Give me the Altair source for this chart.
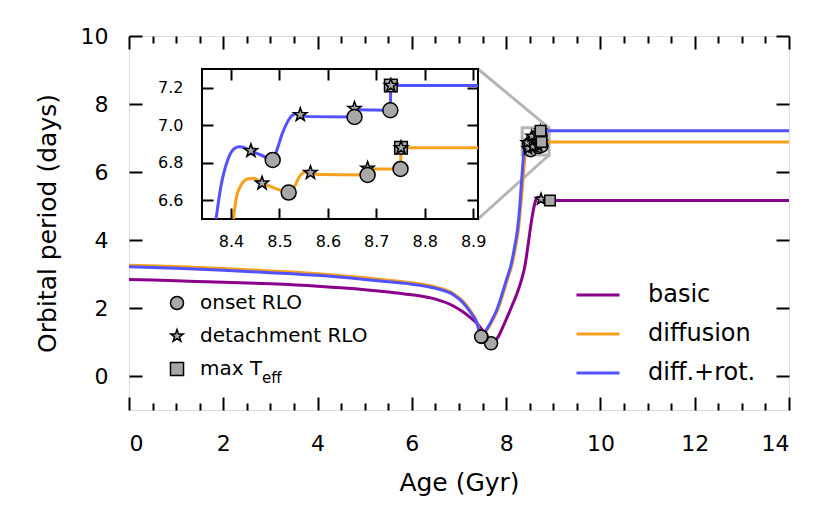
import altair as alt
import pandas as pd

# ---------------- data ----------------
SERIES = ["basic", "diffusion", "diff.+rot."]
COLORS = ["#8b008b", "#f7a01c", "#5252ff"]

basic_age = [0.0, 1.0, 2.0, 3.0, 4.0, 5.0, 5.5, 6.0, 6.5, 6.88, 7.09, 7.23, 7.38, 7.52, 7.68,
             7.75, 7.83, 7.95, 8.05, 8.15, 8.25, 8.33, 8.40, 8.46, 8.52, 8.58, 8.63, 8.67, 8.71, 8.76, 8.90, 14.0]
basic_period = [2.84, 2.80, 2.76, 2.71, 2.64, 2.54, 2.47, 2.39, 2.26, 2.06, 1.88, 1.73, 1.55, 1.30, 0.96,
                1.02, 1.15, 1.50, 1.82, 2.15, 2.50, 2.85, 3.25, 3.80, 4.40, 4.90, 5.18, 5.26, 5.22, 5.17, 5.16, 5.16]

diff_age = [0.0, 1.0, 2.0, 3.0, 4.0, 5.0, 5.5, 6.0, 6.5, 6.88, 7.09, 7.23, 7.38, 7.48,
            7.57, 7.64, 7.72, 7.82, 7.92, 8.03, 8.12, 8.20, 8.26, 8.31, 8.35, 8.38,
            8.405, 8.410, 8.421, 8.434, 8.447, 8.464, 8.49, 8.519,
            8.531, 8.541, 8.552, 8.564, 8.58, 8.682, 8.686, 8.75, 8.751, 14.0]
diff_period = [3.26, 3.22, 3.16, 3.09, 3.01, 2.89, 2.82, 2.74, 2.62, 2.43, 2.19, 1.94, 1.59, 1.15,
               1.30, 1.45, 1.65, 1.94, 2.35, 2.85, 3.25, 3.80, 4.30, 5.00, 5.60, 6.15,
               6.50, 6.60, 6.682, 6.713, 6.717, 6.691, 6.665, 6.641,
               6.673, 6.726, 6.750, 6.747, 6.737, 6.735, 6.767, 6.767, 6.880, 6.880]

rot_age = [0.0, 1.0, 2.0, 3.0, 4.0, 5.0, 5.5, 6.0, 6.5, 6.88, 7.09, 7.23, 7.38, 7.47,
           7.55, 7.62, 7.70, 7.80, 7.90, 8.01, 8.10, 8.18, 8.24, 8.29, 8.32, 8.35,
           8.369, 8.379, 8.393, 8.407, 8.417, 8.428, 8.441, 8.463, 8.486, 8.495, 8.505, 8.515,
           8.525, 8.535, 8.543, 8.56, 8.655, 8.66, 8.665, 8.729, 8.73, 14.0]
rot_period = [3.21, 3.17, 3.11, 3.04, 2.96, 2.84, 2.77, 2.70, 2.58, 2.39, 2.15, 1.90, 1.56, 1.16,
              1.30, 1.45, 1.65, 1.94, 2.35, 2.85, 3.25, 3.80, 4.30, 5.00, 5.60, 6.15,
              6.50, 6.673, 6.814, 6.876, 6.885, 6.880, 6.864, 6.840, 6.815, 6.870, 6.950, 7.010,
              7.050, 7.062, 7.056, 7.046, 7.044, 7.075, 7.083, 7.080, 7.212, 7.212]

KINDS = ["onset RLO", "detachment RLO", "max T"]
SUBSCRIPT = ["eff"]

mk_series = (["basic"] * 3 + ["diffusion"] * 9 + ["diff.+rot."] * 9)
mk_kind = (["onset RLO", "detachment RLO", "max T"]
           + ["onset RLO", "detachment RLO", "onset RLO", "detachment RLO", "onset RLO",
              "detachment RLO", "onset RLO", "max T", "detachment RLO"]
           + ["onset RLO", "detachment RLO", "onset RLO", "detachment RLO", "onset RLO",
              "detachment RLO", "onset RLO", "max T", "detachment RLO"])
mk_age = ([7.68, 8.74, 8.93]
          + [7.48, 8.464, 8.519, 8.564, 8.682, 8.682, 8.750, 8.751, 8.751]
          + [7.47, 8.441, 8.486, 8.543, 8.655, 8.655, 8.729, 8.73, 8.73])
mk_period = ([0.96, 5.20, 5.16]
             + [1.15, 6.691, 6.641, 6.747, 6.735, 6.770, 6.767, 6.880, 6.880]
             + [1.16, 6.864, 6.815, 7.056, 7.044, 7.089, 7.080, 7.212, 7.212])

X_TICKS = [0, 2, 4, 6, 8, 10, 12, 14]
X_MINOR = [v / 2 for v in range(0, 29) if v % 4 != 0]
Y_TICKS = [0, 2, 4, 6, 8, 10]
X_DOM = [0, 14]
Y_DOM = [-1, 10]
IN_X_TICKS = [8.4, 8.5, 8.6, 8.7, 8.8, 8.9]
IN_Y_TICKS = [6.6, 6.8, 7.0, 7.2]
IN_X_DOM = [8.34, 8.91]
IN_Y_DOM = [6.5, 7.3]

# ---------------- layout / style ----------------
W, H = 660, 374
PAD = {"left": 121, "top": 28, "right": 34, "bottom": 96}
IN_LEFT, IN_RIGHT, IN_TOP, IN_BOTTOM = 73, 349, 33, 183
FONT = "DejaVu Sans"
GRAY = "#a8a8a8"
BOXGRAY = "#b5b5b5"
STAR = ("M0,-1L0.235,-0.324L0.951,-0.309L0.380,0.124L0.588,0.809L0,0.4"
        "L-0.588,0.809L-0.380,0.124L-0.951,-0.309L-0.235,-0.324Z")

lines_df = pd.concat([
    pd.DataFrame({"series": s, "age": a, "period": p})
    for s, a, p in zip(SERIES, [basic_age, diff_age, rot_age], [basic_period, diff_period, rot_period])
], ignore_index=True)

mk_df = pd.DataFrame({"series": mk_series, "kind": mk_kind, "age": mk_age, "period": mk_period})
mk_df["k"] = mk_df["kind"].map({k: i for i, k in enumerate(KINDS)})
mk_main = mk_df.sort_values("k", kind="stable")                    # circles, stars, squares
mk_inset = mk_df.sort_values("k", ascending=False, kind="stable")  # squares, stars, circles

box_df = pd.DataFrame({"x": [IN_X_DOM[0]], "x2": [IN_X_DOM[1]], "y": [IN_Y_DOM[0]], "y2": [IN_Y_DOM[1]]})

# inset corners expressed in main data units (for the connector lines)
cx = X_DOM[0] + IN_RIGHT / W * (X_DOM[1] - X_DOM[0])
cy_top = Y_DOM[1] - IN_TOP / H * (Y_DOM[1] - Y_DOM[0])
cy_bot = Y_DOM[1] - IN_BOTTOM / H * (Y_DOM[1] - Y_DOM[0])
conn_df = pd.DataFrame({"x": [IN_X_DOM[1], IN_X_DOM[1]], "y": [IN_Y_DOM[1], IN_Y_DOM[0]],
                        "x2": [cx, cx], "y2": [cy_top, cy_bot]})

MX = alt.Scale(domain=X_DOM, nice=False, zero=False)
MY = alt.Scale(domain=Y_DOM, nice=False, zero=False)
IX = alt.Scale(domain=IN_X_DOM, range=[IN_LEFT, IN_RIGHT], clamp=True, nice=False, zero=False)
IY = alt.Scale(domain=IN_Y_DOM, range=[IN_BOTTOM, IN_TOP], nice=False, zero=False)
CS = alt.Scale(domain=SERIES, range=COLORS)
SHAPES = alt.Scale(domain=KINDS, range=["circle", STAR, "square"])
OUTLINE = alt.Scale(domain=KINDS, range=["black", "black", "black"])


def ax(orient, values, size, offset, **kw):
    base = dict(orient=orient, values=values, tickSize=size, offset=offset, domain=False, grid=False,
                labels=False, ticks=True, tickWidth=2, tickColor="black", zindex=1, title=None)
    base.update(kw)
    return alt.Axis(**base)


bottom_major = ax("bottom", X_TICKS, 13, -13, labels=True, format="d", labelFontSize=22, labelFont=FONT,
                  labelColor="black", labelPadding=23, title="Age (Gyr)", titleFontSize=25, titleFont=FONT,
                  titleFontWeight="normal", titleColor="black", titlePadding=16)
left_major = ax("left", Y_TICKS, 13, -13, labels=True, format="d", labelFontSize=22, labelFont=FONT,
                labelColor="black", labelPadding=21, title="Orbital period (days)", titleFontSize=25,
                titleFont=FONT, titleFontWeight="normal", titleColor="black", titlePadding=20)
bottom_minor = ax("bottom", X_MINOR, 7, -7)
top_major = ax("top", X_TICKS, 13, -13)
top_minor = ax("top", X_MINOR, 7, -7)
right_major = ax("right", Y_TICKS, 13, -13)

ITS = 11
in_bottom = ax("bottom", IN_X_TICKS, ITS, -(H - IN_BOTTOM + ITS), labels=True, format=".1f", labelFontSize=16,
               labelFont=FONT, labelColor="black", labelPadding=14)
in_left = ax("left", IN_Y_TICKS, ITS, -(IN_LEFT + ITS), labels=True, format=".1f", labelFontSize=16,
             labelFont=FONT, labelColor="black", labelPadding=19)
in_top = ax("top", IN_X_TICKS, ITS, -(IN_TOP + ITS))
in_right = ax("right", IN_Y_TICKS, ITS, -(W - IN_RIGHT + ITS))

color_legend = alt.Legend(orient="none", legendX=446, legendY=247, title=None, symbolType="stroke",
                          symbolSize=1849, symbolStrokeWidth=3, clipHeight=24, rowPadding=15, padding=0,
                          labelFontSize=24, labelFont=FONT, labelColor="black", labelOffset=27,
                          labelLimit=400)
shape_legend = alt.Legend(orient="none", legendX=38, legendY=257, title=None, symbolSize=170,
                          symbolFillColor=GRAY, symbolStrokeWidth=1.5,
                          symbolOpacity=1, clipHeight=20, rowPadding=13, padding=0, labelFontSize=20,
                          labelFont=FONT, labelColor="black", labelOffset=13, labelLimit=400)

layers = []

# zoom box in the main panel
layers.append(alt.Chart(box_df).mark_rect(fill=None, stroke=BOXGRAY, strokeWidth=3).encode(
    x=alt.X("x:Q", scale=MX, axis=bottom_minor), x2="x2:Q",
    y=alt.Y("y:Q", scale=MY, axis=right_major), y2="y2:Q"))

# connector lines
layers.append(alt.Chart(conn_df).mark_rule(stroke=BOXGRAY, strokeWidth=3).encode(
    x=alt.X("x:Q", scale=MX, axis=top_major), x2="x2:Q",
    y=alt.Y("y:Q", scale=MY, axis=None), y2="y2:Q"))

# main curves
main_axes = [(bottom_major, left_major), (top_minor, None), (None, None)]
for s, (xa, ya) in zip(SERIES, main_axes):
    layers.append(alt.Chart(lines_df).transform_filter(alt.datum.series == s).mark_line(
        strokeWidth=3, interpolate="monotone").encode(
        x=alt.X("age:Q", scale=MX, axis=xa),
        y=alt.Y("period:Q", scale=MY, axis=ya),
        color=alt.Color("series:N", scale=CS, legend=color_legend if s == SERIES[0] else None)))

# main markers
layers.append(alt.Chart(mk_main).mark_point(filled=True, opacity=1, strokeWidth=1.5).encode(
    x=alt.X("age:Q", scale=MX, axis=None),
    y=alt.Y("period:Q", scale=MY, axis=None),
    shape=alt.Shape("kind:N", scale=SHAPES, legend=shape_legend),
    stroke=alt.Stroke("kind:N", scale=OUTLINE, legend=shape_legend),
    size=alt.Size("kind:O", scale=alt.Scale(domain=KINDS, range=[169, 110, 210]), legend=None),
    fill=alt.value(GRAY),
    order=alt.Order("k:Q")))

# inset frame
layers.append(alt.Chart(box_df).mark_rect(fill="white", stroke="black", strokeWidth=2).encode(
    x=alt.X("x:Q", scale=IX, axis=in_bottom), x2="x2:Q",
    y=alt.Y("y:Q", scale=IY, axis=in_left), y2="y2:Q"))

# inset curves
in_axes = [(in_top, None), (None, in_right), (None, None)]
for s, (xa, ya) in zip(SERIES, in_axes):
    layers.append(alt.Chart(lines_df).transform_filter(
        (alt.datum.series == s) & (alt.datum.age >= IN_X_DOM[0]) & (alt.datum.period >= IN_Y_DOM[0])
        & (alt.datum.period <= IN_Y_DOM[1])).mark_line(strokeWidth=3, interpolate="monotone").encode(
        x=alt.X("age:Q", scale=IX, axis=xa),
        y=alt.Y("period:Q", scale=IY, axis=ya),
        color=alt.Color("series:N", scale=CS, legend=None)))

# inset markers
layers.append(alt.Chart(mk_inset).transform_filter(
    (alt.datum.age >= IN_X_DOM[0]) & (alt.datum.age <= IN_X_DOM[1])
    & (alt.datum.period >= IN_Y_DOM[0]) & (alt.datum.period <= IN_Y_DOM[1])).mark_point(
    filled=True, opacity=1, strokeWidth=1.5).encode(
    x=alt.X("age:Q", scale=IX, axis=None),
    y=alt.Y("period:Q", scale=IY, axis=None),
    shape=alt.Shape("kind:N", scale=SHAPES, legend=None),
    stroke=alt.Stroke("kind:N", scale=OUTLINE, legend=None),
    size=alt.Size("kind:O", scale=alt.Scale(domain=KINDS, range=[225, 160, 225]), legend=None),
    fill=alt.value(GRAY),
    order=alt.Order("k:Q", sort="descending")))

# subscript of the "max T_eff" legend entry
layers.append(alt.Chart(pd.DataFrame({"t": SUBSCRIPT})).mark_text(
    align="left", baseline="alphabetic", fontSize=15, font=FONT, color="black").encode(
    x=alt.value(133), y=alt.value(347), text="t:N"))

chart = alt.layer(*layers).resolve_scale(
    x="independent", y="independent", size="independent"
).resolve_axis(x="independent", y="independent").properties(
    width=W, height=H, padding=PAD, autosize=alt.AutoSizeParams(type="none")
).configure_view(stroke="black", strokeWidth=2).configure(font=FONT)

chart.save("out.html", embed_options={"renderer": "svg", "actions": False})
